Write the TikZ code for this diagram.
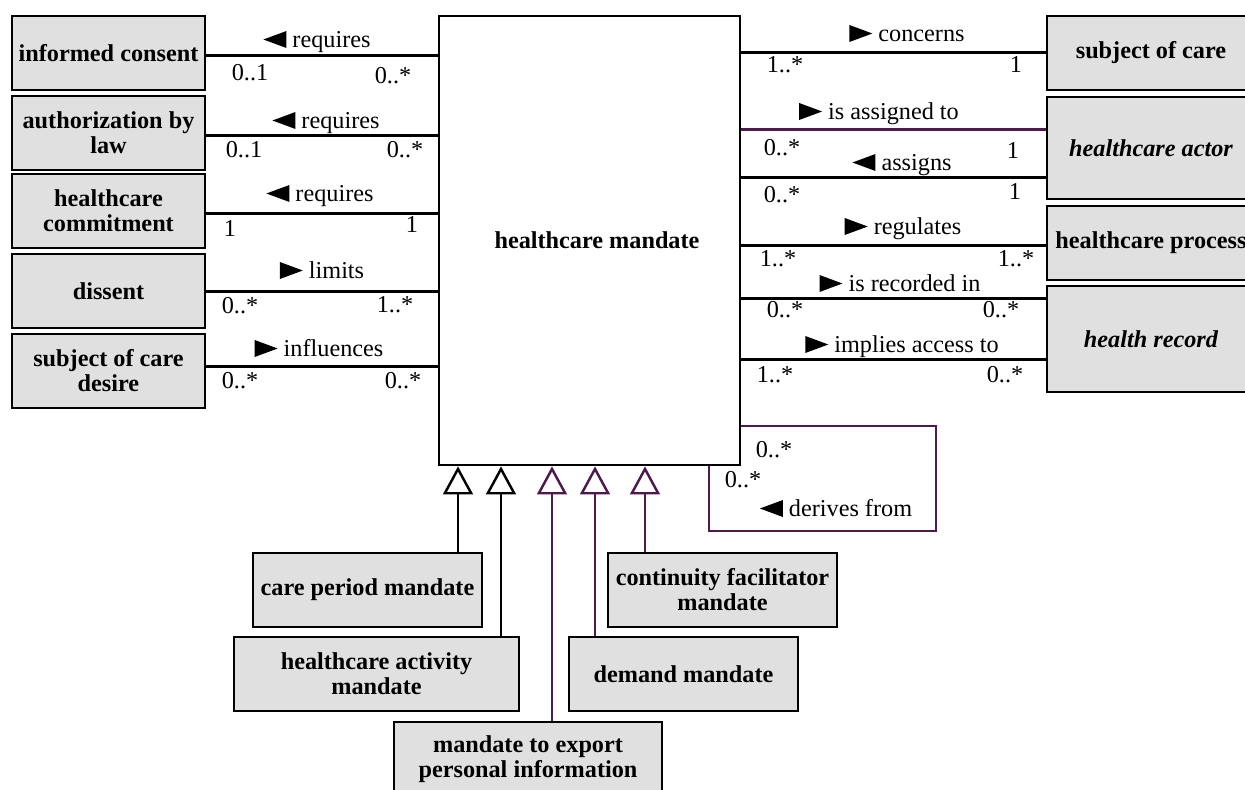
\documentclass[tikz,border=0pt]{standalone}
\usepackage{fontspec}
\setmainfont{Liberation Serif}
\usetikzlibrary{arrows.meta,calc}
\definecolor{plum}{HTML}{4E1A4E}
\definecolor{boxgray}{HTML}{E0E0E0}
\newcommand{\dsize}{\fontsize{13.8}{14.2}\selectfont}
\newcommand{\rtri}{\tikz[x=1cm,y=1cm,baseline=0pt]\fill (0,0) -- (0,0.34) -- (0.46,0.17) -- cycle;}
\newcommand{\ltri}{\tikz[x=1cm,y=1cm,baseline=0pt]\fill (0.46,0) -- (0.46,0.34) -- (0,0.17) -- cycle;}
\begin{document}
\begin{tikzpicture}[x=0.02cm, y=-0.02cm, font=\dsize,
  cls/.style={draw, line width=1.6pt, fill=boxgray, align=center, font=\dsize\bfseries, inner sep=0pt, minimum height=1.48cm},
  assoc/.style={line width=1.4pt},
  gen/.style={line width=1.4pt, -{Triangle[open, length=16pt, width=17pt]}},
  role/.style={anchor=base, inner sep=0pt},
  mult/.style={anchor=base, inner sep=0pt}]
\path[use as bounding box, fill=white] (0,0) rectangle (1245,790);

\node[draw, line width=1.6pt, minimum width=6.02cm, minimum height=8.98cm] (hm) at (589.5,240.5) {};
\node[font=\dsize\bfseries] (hmt) at ($(hm.center)+(7.5,0)$) {healthcare mandate};

\node[cls, minimum width=3.86cm] (ic) at (108.5,53) {informed consent};
\node[cls, minimum width=3.86cm] (abl) at (108.5,133) {authorization by\\law};
\node[cls, minimum width=3.86cm] (hcc) at (108.5,211) {healthcare\\commitment};
\node[cls, minimum width=3.86cm] (dis) at (108.5,291) {dissent};
\node[cls, minimum width=3.86cm] (scd) at (108.5,371) {subject of care\\desire};

\node[cls, minimum width=4.16cm] (soc) at (1151,53) {subject of care};
\node[cls, minimum width=4.16cm, minimum height=2.04cm, font=\dsize\bfseries\itshape] (ha) at (1151,148) {healthcare actor};
\node[cls, minimum width=4.16cm] (hp) at (1151,243) {healthcare process};
\node[cls, minimum width=4.16cm, minimum height=2.12cm, font=\dsize\bfseries\itshape] (hr) at (1151,339) {health record};

\node[cls, minimum width=4.58cm] (cpm) at (367.5,590) {care period mandate};
\node[cls, minimum width=5.7cm] (ham) at (376.5,674) {healthcare activity\\mandate};
\node[cls, minimum width=5.36cm] (mte) at (528,759) {mandate to export\\personal information};
\node[cls, minimum width=4.58cm] (cfm) at (722.5,590) {continuity facilitator\\mandate};
\node[cls, minimum width=4.58cm] (dm) at (683.5,674) {demand mandate};

% associations on the left
\coordinate (l1) at ($(hm.north west)+(0,41)$);
\coordinate (l2) at ($(hm.north west)+(0,121)$);
\coordinate (l3) at ($(hm.north west)+(0,199)$);
\coordinate (l4) at ($(hm.north west)+(0,277)$);
\coordinate (l5) at ($(hm.north west)+(0,352)$);
\path[draw,assoc] (l1) -- (l1 -| ic.east);
\path[draw,assoc] (l2) -- (l2 -| abl.east);
\path[draw,assoc] (l3) -- (l3 -| hcc.east);
\path[draw,assoc] (l4) -- (l4 -| dis.east);
\path[draw,assoc] (l5) -- (l5 -| scd.east);
\node[role] (q1) at (317,48) {\ltri\ requires};
\node[role] (q2) at (326,129) {\ltri\ requires};
\node[role] (q3) at (320,202) {\ltri\ requires};
\node[role] (q4) at (322,279) {\rtri\ limits};
\node[role] (q5) at (319,357) {\rtri\ influences};
\node[mult] (m1a) at (250,81) {0..1};
\node[mult] (m1b) at (393,84) {0..*};
\node[mult] (m2a) at (244,158) {0..1};
\node[mult] (m2b) at (405,158) {0..*};
\node[mult] (m3a) at (230,237) {1};
\node[mult] (m3b) at (412,233) {1};
\node[mult] (m4a) at (240,314) {0..*};
\node[mult] (m4b) at (395,313) {1..*};
\node[mult] (m5a) at (240,389) {0..*};
\node[mult] (m5b) at (403,389) {0..*};

% associations on the right
\coordinate (r1) at ($(hm.north east)+(0,38)$);
\coordinate (r2) at ($(hm.north east)+(0,115)$);
\coordinate (r3) at ($(hm.north east)+(0,163)$);
\coordinate (r4) at ($(hm.north east)+(0,231)$);
\coordinate (r5) at ($(hm.north east)+(0,284)$);
\coordinate (r6) at ($(hm.north east)+(0,345)$);
\path[draw,assoc] (r1) -- (r1 -| soc.west);
\path[draw,assoc,color=plum] (r2) -- (r2 -| ha.west);
\path[draw,assoc] (r3) -- (r3 -| ha.west);
\path[draw,assoc] (r4) -- (r4 -| hp.west);
\path[draw,assoc] (r5) -- (r5 -| hr.west);
\path[draw,assoc] (r6) -- (r6 -| hr.west);
\node[role] (p1) at (907,42) {\rtri\ concerns};
\node[role] (p2) at (879,120) {\rtri\ is assigned to};
\node[role] (p3) at (902,171) {\ltri\ assigns};
\node[role] (p4) at (903,235) {\rtri\ regulates};
\node[role] (p5) at (900,292) {\rtri\ is recorded in};
\node[role] (p6) at (902,353) {\rtri\ implies access to};
\node[mult] (n1a) at (785,73) {1..*};
\node[mult] (n1b) at (1016,73) {1};
\node[mult] (n2a) at (782,156) {0..*};
\node[mult] (n2b) at (1013,159) {1};
\node[mult] (n3a) at (782,203) {0..*};
\node[mult] (n3b) at (1015,200) {1};
\node[mult] (n4a) at (778,267) {1..*};
\node[mult] (n4b) at (1016,267) {1..*};
\node[mult] (n5a) at (785,318) {0..*};
\node[mult] (n5b) at (1001,318) {0..*};
\node[mult] (n6a) at (775,383) {1..*};
\node[mult] (n6b) at (1005,383) {0..*};

% self association
\coordinate (d1) at ($(hm.south east)+(0,-40)$);
\coordinate (d2) at ($(hm.south east)+(-32,0)$);
\path[draw,line width=1.2pt,color=plum] (d1) -- ++(195,0) |- ($(d2)+(0,65)$) -- (d2);
\node[mult] (dma) at (774,458) {0..*};
\node[mult] (dmb) at (743,488) {0..*};
\node[role] (dr) at (836,517) {\ltri\ derives from};

% specialisations
\coordinate (g1) at ($(cpm.north)+(90.5,0)$);
\coordinate (g2) at ($(ham.north)+(124.5,0)$);
\coordinate (g3) at ($(mte.north)+(24,0)$);
\coordinate (g4) at ($(dm.north)+(-88.5,0)$);
\coordinate (g5) at ($(cfm.north)+(-77.5,0)$);
\path[draw,gen] (g1) -- (g1 |- hm.south);
\path[draw,gen] (g2) -- (g2 |- hm.south);
\path[draw,gen,color=plum] (g3) -- (g3 |- hm.south);
\path[draw,gen,color=plum] (g4) -- (g4 |- hm.south);
\path[draw,gen,color=plum] (g5) -- (g5 |- hm.south);
\end{tikzpicture}
\end{document}
